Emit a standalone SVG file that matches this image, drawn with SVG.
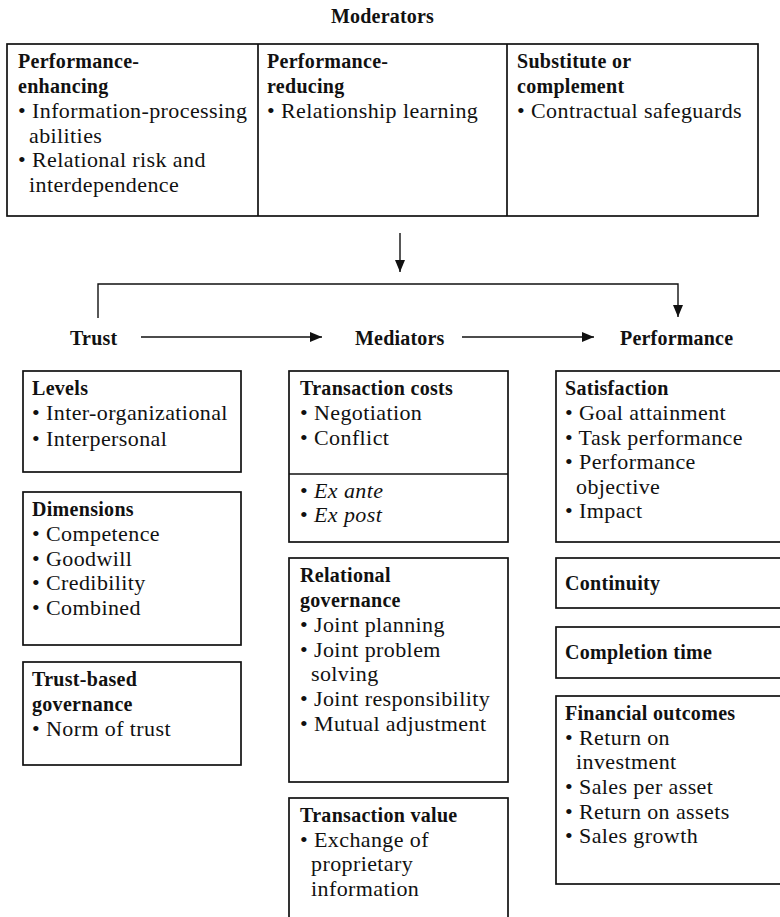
<svg xmlns="http://www.w3.org/2000/svg" width="780" height="917" viewBox="0 0 780 917">
  <style>
    .box { fill: #fff; stroke: #111; stroke-width: 1.7; }
    .rule { stroke: #111; stroke-width: 1.7; fill: none; }
    .conn { stroke: #111; stroke-width: 1.4; fill: none; }
    text { font-family: "Liberation Serif", "Times New Roman", serif; fill: #111; }
    .h { font-weight: bold; font-size: 20px; letter-spacing: 0.3px; }
    .t { font-size: 22px; letter-spacing: 0.4px; }
    .i { font-style: italic; }
    .title { font-weight: bold; font-size: 20px; letter-spacing: 0.2px; }
  </style>
  <defs>
    <marker id="arrow" viewBox="0 0 12 10" refX="12" refY="5" markerWidth="12" markerHeight="10" markerUnits="userSpaceOnUse" orient="auto">
      <path d="M0,0 L12,5 L0,10 Z" fill="#111"/>
    </marker>
  </defs>

  <rect width="780" height="917" fill="#fff"/>

  <!-- Moderators header and panel -->
  <g id="moderators">
    <text class="title" x="331" y="23">Moderators</text>
    <rect class="box" x="7" y="44" width="751" height="172"/>
    <line class="rule" x1="258" y1="44" x2="258" y2="216"/>
    <line class="rule" x1="507" y1="44" x2="507" y2="216"/>
  </g>

  <g id="mod-enhancing">
    <text class="h" x="18" y="68">Performance-</text>
    <text class="h" x="18" y="93">enhancing</text>
    <text class="t" x="18" y="118">• Information-processing</text>
    <text class="t" x="29" y="143">abilities</text>
    <text class="t" x="18" y="167">• Relational risk and</text>
    <text class="t" x="29" y="192">interdependence</text>
  </g>

  <g id="mod-reducing">
    <text class="h" x="267" y="68">Performance-</text>
    <text class="h" x="267" y="93">reducing</text>
    <text class="t" x="267" y="118">• Relationship learning</text>
  </g>

  <g id="mod-substitute">
    <text class="h" x="517" y="68">Substitute or</text>
    <text class="h" x="517" y="93">complement</text>
    <text class="t" x="517" y="118">• Contractual safeguards</text>
  </g>

  <!-- Main chain labels -->
  <g id="trust"><text class="title" x="70" y="345">Trust</text></g>
  <g id="mediators"><text class="title" x="355" y="345">Mediators</text></g>
  <g id="performance"><text class="title" x="620" y="345">Performance</text></g>

  <!-- Connectors -->
  <g id="connectors">
    <line class="conn" x1="400" y1="233" x2="400" y2="272" marker-end="url(#arrow)"/>
    <path class="conn" d="M98,318 V284 H678 V317" marker-end="url(#arrow)"/>
    <line class="conn" x1="141" y1="337" x2="322" y2="337" marker-end="url(#arrow)"/>
    <line class="conn" x1="462" y1="337" x2="594" y2="337" marker-end="url(#arrow)"/>
  </g>

  <!-- Trust column -->
  <g id="levels">
    <rect class="box" x="23" y="371" width="218" height="101"/>
    <text class="h" x="32" y="395">Levels</text>
    <text class="t" x="32" y="420">• Inter-organizational</text>
    <text class="t" x="32" y="446">• Interpersonal</text>
  </g>

  <g id="dimensions">
    <rect class="box" x="23" y="492" width="218" height="153"/>
    <text class="h" x="32" y="516">Dimensions</text>
    <text class="t" x="32" y="541">• Competence</text>
    <text class="t" x="32" y="566">• Goodwill</text>
    <text class="t" x="32" y="590">• Credibility</text>
    <text class="t" x="32" y="615">• Combined</text>
  </g>

  <g id="trust-governance">
    <rect class="box" x="23" y="662" width="218" height="103"/>
    <text class="h" x="32" y="686">Trust-based</text>
    <text class="h" x="32" y="711">governance</text>
    <text class="t" x="32" y="736">• Norm of trust</text>
  </g>

  <!-- Mediators column -->
  <g id="transaction-costs">
    <rect class="box" x="289" y="371" width="219" height="171"/>
    <line class="rule" x1="289" y1="474" x2="508" y2="474"/>
    <text class="h" x="300" y="395">Transaction costs</text>
    <text class="t" x="300" y="420">• Negotiation</text>
    <text class="t" x="300" y="445">• Conflict</text>
    <text class="t" x="300" y="498">• <tspan class="i">Ex ante</tspan></text>
    <text class="t" x="300" y="522">• <tspan class="i">Ex post</tspan></text>
  </g>

  <g id="relational-governance">
    <rect class="box" x="289" y="558" width="219" height="224"/>
    <text class="h" x="300" y="582">Relational</text>
    <text class="h" x="300" y="607">governance</text>
    <text class="t" x="300" y="632">• Joint planning</text>
    <text class="t" x="300" y="657">• Joint problem</text>
    <text class="t" x="311" y="681">solving</text>
    <text class="t" x="300" y="706">• Joint responsibility</text>
    <text class="t" x="300" y="731">• Mutual adjustment</text>
  </g>

  <g id="transaction-value">
    <rect class="box" x="289" y="798" width="219" height="140"/>
    <text class="h" x="300" y="822">Transaction value</text>
    <text class="t" x="300" y="847">• Exchange of</text>
    <text class="t" x="311" y="871">proprietary</text>
    <text class="t" x="311" y="896">information</text>
  </g>

  <!-- Performance column -->
  <g id="satisfaction">
    <rect class="box" x="556" y="371" width="240" height="171"/>
    <text class="h" x="565" y="395">Satisfaction</text>
    <text class="t" x="565" y="420">• Goal attainment</text>
    <text class="t" x="565" y="445">• Task performance</text>
    <text class="t" x="565" y="469">• Performance</text>
    <text class="t" x="576" y="494">objective</text>
    <text class="t" x="565" y="518">• Impact</text>
  </g>

  <g id="continuity">
    <rect class="box" x="556" y="558" width="240" height="50"/>
    <text class="h" x="565" y="590">Continuity</text>
  </g>

  <g id="completion-time">
    <rect class="box" x="556" y="627" width="240" height="51"/>
    <text class="h" x="565" y="659">Completion time</text>
  </g>

  <g id="financial-outcomes">
    <rect class="box" x="556" y="696" width="240" height="188"/>
    <text class="h" x="565" y="720">Financial outcomes</text>
    <text class="t" x="565" y="745">• Return on</text>
    <text class="t" x="576" y="769">investment</text>
    <text class="t" x="565" y="794">• Sales per asset</text>
    <text class="t" x="565" y="819">• Return on assets</text>
    <text class="t" x="565" y="843">• Sales growth</text>
  </g>
</svg>
